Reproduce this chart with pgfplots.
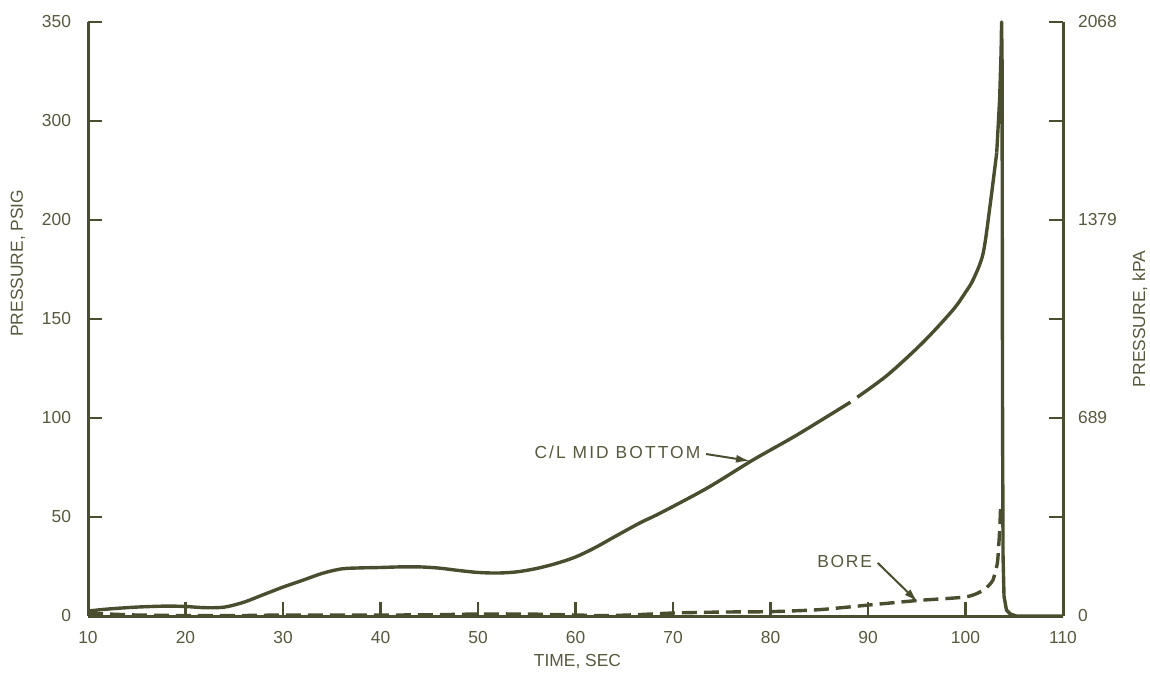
\documentclass[border=0pt]{standalone}
\usepackage{pgfplots}
\pgfplotsset{compat=1.18}
\usepackage{fontspec}
\setmainfont{Liberation Sans}
\usetikzlibrary{arrows.meta}
\definecolor{ink}{RGB}{74,78,46}
\definecolor{inktext}{RGB}{88,88,62}
\newcommand{\chartfont}{\fontsize{8.7}{10}\selectfont}

\begin{document}
\begin{tikzpicture}[x=1pt,y=1pt]
\useasboundingbox (0,0) rectangle (575,337.5);
\pgfplotsset{
  chartbase/.style={
    at={(44pt,29.5pt)}, anchor=south west,
    scale only axis, width=487.5pt, height=297pt,
    xmin=10, xmax=110, ymin=0, ymax=300,
    tick align=inside, major tick length=7pt,
    every tick/.style={ink, line width=1.2pt},
    axis line style={-, ink, line width=1.5pt},
    tick label style={font=\chartfont, text=inktext},
    /pgf/number format/assume math mode=true,
  }
}
% left scale in psig, with the time axis
\begin{axis}[chartbase,
  axis x line*=bottom, axis y line*=left,
  xtick={10,20,...,110},
  ytick={0,50,...,300},
  yticklabels={0,50,100,150,200,300,350},
  yticklabel style={xshift=-5pt},
  xticklabel style={yshift=-4pt},
  xlabel={TIME, SEC},
  ylabel={PRESSURE, PSIG},
  every axis x label/.style={at={(axis description cs:0.502,-0.077)}, anchor=center, font=\chartfont, text=inktext},
  every axis y label/.style={at={(axis description cs:-0.072,0.594)}, rotate=90, anchor=center, font=\chartfont, text=inktext},
  clip=false,
]
% C/L mid bottom gauge
\addplot[ink, line width=1.7pt, smooth, tension=0.5, line join=round] coordinates {
  (10,2.5) (12,3.5) (15,4.5) (18,5) (20,4.8) (22,4.2) (24,4.5) (26,7)
  (28,10.8) (30,14.6) (32,18) (34,21.5) (36,23.8) (38,24.3) (40,24.5)
  (42,24.8) (44,24.8) (46,24.2) (48,23) (50,22) (52,21.7) (54,22.3)
  (56,24) (58,26.5) (60,29.8) (62,34.5) (64,40) (66.6,47) (68.7,52)
  (73.5,64.6) (78.2,78.8) (82.7,91.4) (88.2,108)
};
\addplot[ink, line width=1.7pt, smooth, tension=0.5, line join=round] coordinates {
  (88.9,110.5) (92,121.7) (95.6,138) (98.7,154.5) (100,163.5)
  (100.8,170) (101.8,183) (102.5,206.6) (103.2,234)
};
\addplot[ink, line width=1.7pt, line join=round] coordinates {
  (103.2,234) (103.5,261) (103.65,285) (103.7,300) (103.75,280)
  (103.77,200) (103.8,100) (103.85,30) (103.95,10) (104.2,3)
  (104.6,1) (105.2,0) (110,0)
};
% bore gauge
\addplot[ink, line width=1.7pt, dash pattern=on 7.5pt off 3.5pt, smooth, tension=0.4] coordinates {
  (10,1.2) (12,1) (15,0.5) (20,0.2) (25,0.2) (30,0.5) (35,0.5) (40,0.5)
  (45,0.6) (50,1) (55,1) (60,0.5) (63,0.2) (66,0.6) (70,1.5) (75,2)
  (80,2.2) (85,3.2) (90,5.5) (95,7.8) (98,8.8) (100,9.6) (101,11)
  (101.8,13) (102.4,15.5) (102.8,18) (103.1,23) (103.3,28) (103.5,43)
  (103.6,55)
};
\node[font=\chartfont\addfontfeatures{LetterSpace=12}, text=inktext] at (axis cs:64.3,82.8) {C/L MID BOTTOM};
\draw[ink, line width=1pt, -{Latex[length=7pt,width=4pt]}] (axis cs:73.4,81.8) -- (axis cs:77.9,78.3);
\node[font=\chartfont\addfontfeatures{LetterSpace=10}, text=inktext] at (axis cs:87.6,27.3) {BORE};
\draw[ink, line width=1pt, -{Latex[length=7pt,width=4pt]}] (axis cs:91.0,26.8) -- (axis cs:95.1,7.1);
\end{axis}
% right scale in kPa
\begin{axis}[chartbase,
  axis x line=none, axis y line*=right,
  ymin=0, ymax=2068.43,
  ytick={0,344.74,689.48,1034.21,1378.95,1723.69,2068.43},
  yticklabels={0,,689,,1379,,2068},
  yticklabel style={xshift=4pt},
  ylabel={PRESSURE, kPA},
  every axis y label/.style={at={(axis description cs:1.079,0.5)}, rotate=90, anchor=center, font=\chartfont, text=inktext},
]
\end{axis}
\end{tikzpicture}
\end{document}
